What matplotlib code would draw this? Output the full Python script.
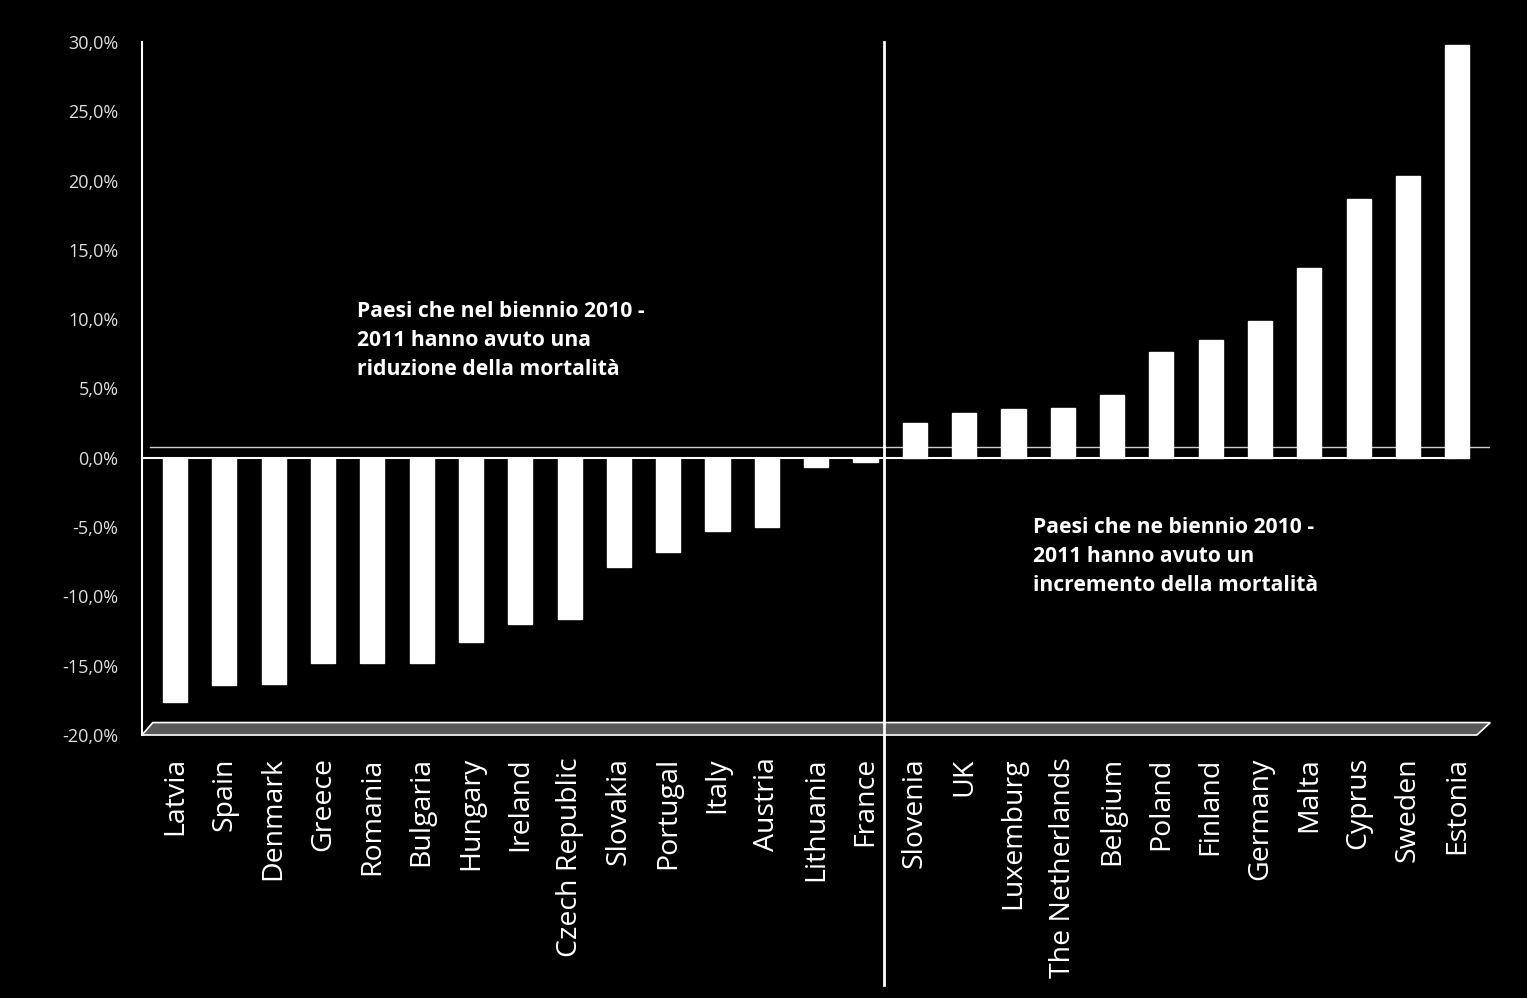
import matplotlib
matplotlib.use("Agg")
import matplotlib.pyplot as plt
from matplotlib.patches import Polygon

countries = ["Latvia", "Spain", "Denmark", "Greece", "Romania", "Bulgaria", "Hungary",
             "Ireland", "Czech Republic", "Slovakia", "Portugal", "Italy", "Austria",
             "Lithuania", "France", "Slovenia", "UK", "Luxemburg", "The Netherlands",
             "Belgium", "Poland", "Finland", "Germany", "Malta", "Cyprus", "Sweden", "Estonia"]
values = [-17.6, -16.4, -16.3, -14.8, -14.8, -14.8, -13.3,
          -12.0, -11.6, -7.9, -6.8, -5.3, -5.0,
          -0.7, -0.3, 2.5, 3.2, 3.5, 3.6,
          4.5, 7.6, 8.5, 9.9, 13.7, 18.7, 20.3, 29.8]
yticks = [-20, -15, -10, -5, 0, 5, 10, 15, 20, 25, 30]
ytick_labels = ["-20,0%", "-15,0%", "-10,0%", "-5,0%", "0,0%", "5,0%", "10,0%",
                "15,0%", "20,0%", "25,0%", "30,0%"]
note_left = "Paesi che nel biennio 2010 -\n2011 hanno avuto una\nriduzione della mortalità"
note_right = "Paesi che ne biennio 2010 -\n2011 hanno avuto un\nincremento della mortalità"

plt.rcParams['font.family'] = ['Open Sans', 'DejaVu Sans']

fig = plt.figure(figsize=(15.27, 9.98), dpi=100, facecolor='black')
ax = fig.add_axes([0.093, 0.2635, 0.883, 0.6945])
ax.set_facecolor('black')

x = list(range(len(countries)))
ax.bar(x, values, width=0.49, color='white', edgecolor='white', zorder=3)

ax.set_xlim(-0.67, 26.67)
ax.set_ylim(-20, 30)
ax.set_yticks(yticks)
ax.set_yticklabels(ytick_labels, color='#e0e0e0', fontsize=13)
ax.set_xticks(x)
ax.set_xticklabels(countries, rotation=90, color='white', fontsize=20.5, va='top')
ax.tick_params(axis='y', length=0, pad=17)
ax.tick_params(axis='x', length=0, pad=16)

for s in ['top', 'right', 'bottom']:
    ax.spines[s].set_visible(False)
ax.spines['left'].set_color('white')
ax.spines['left'].set_linewidth(1.5)

# zero lines (front and back)
ax.axhline(0, xmin=0, xmax=0.975, color='white', lw=1.5, zorder=4)
ax.plot([-0.5, 26.67], [0.8, 0.8], color='#cccccc', lw=1, zorder=2)

# floor
floor = Polygon([[0.0, 0.0], [0.008, 0.018], [1.0, 0.018], [0.99, 0.0]],
                closed=True, transform=ax.transAxes, facecolor='#595959',
                edgecolor='white', lw=1.2, clip_on=False, zorder=2)
ax.add_patch(floor)

# separator
ax.axvline(14.38, ymin=-0.36, ymax=1.0, color='white', lw=2, clip_on=False, zorder=5)

ax.text(0.1595, 0.626, note_left, transform=ax.transAxes, color='white',
        fontsize=15.2, fontweight='bold', va='top', ha='left', linespacing=1.5)
ax.text(0.661, 0.315, note_right, transform=ax.transAxes, color='white',
        fontsize=15.2, fontweight='bold', va='top', ha='left', linespacing=1.5)

fig.savefig('out.png', dpi=100, facecolor='black')
